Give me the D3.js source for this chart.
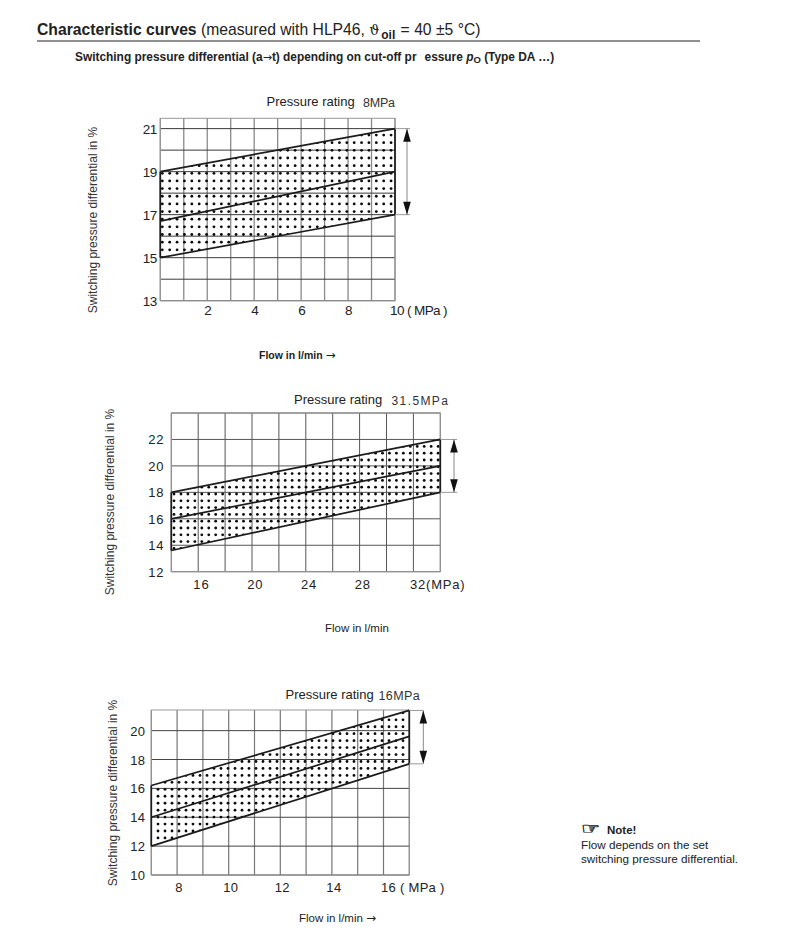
<!DOCTYPE html>
<html><head><meta charset="utf-8">
<script src="https://cdnjs.cloudflare.com/ajax/libs/d3/7.8.5/d3.min.js"></script>
<style>
html,body{margin:0;padding:0;background:#fff}
svg{display:block}
text{font-family:"Liberation Sans",Arial,sans-serif;fill:#222}
</style></head><body>
<svg id="c" width="793" height="938"></svg>
<script>
// Chart 1
const c1Rating = "8MPa";
const c1XDomain = [0, 10];
const c1YDomain = [13, 21.48];
const c1XGrid = [0,1,2,3,4,5,6,7,8,9,10];
const c1YGrid = [13,14,15,16,17,18,19,20,21];
const c1XTicks = [2,4,6,8,10];
const c1YTicks = [13,15,17,19,21];
const c1Lower = [15,17];
const c1Middle = [16.7,19];
const c1Upper = [19,21];
// Chart 2
const c2Rating = "31.5MPa";
const c2XDomain = [14, 34];
const c2YDomain = [12, 24];
const c2XGrid = [14,16,18,20,22,24,26,28,30,32,34];
const c2YGrid = [12,14,16,18,20,22,24];
const c2XTicks = [16,20,24,28,32];
const c2YTicks = [12,14,16,18,20,22];
const c2Lower = [13.6,18];
const c2Middle = [16,20];
const c2Upper = [18,22];
// Chart 3
const c3Rating = "16MPa";
const c3XDomain = [7, 17];
const c3YDomain = [10, 21.43];
const c3XGrid = [7,8,9,10,11,12,13,14,15,16,17];
const c3YGrid = [10,12,14,16,18,20];
const c3XTicks = [8,10,12,14,16];
const c3YTicks = [10,12,14,16,18,20];
const c3Lower = [12,17.7];
const c3Middle = [14,19.6];
const c3Upper = [16.2,21.4];

const yTitle = "Switching pressure differential in %";
const svg = d3.select("#c");
const arrowFont = "DejaVu Sans";

function chart(o){
  const x = d3.scaleLinear().domain(o.xd).range([o.l,o.r]);
  const y = d3.scaleLinear().domain(o.yd).range([o.b,o.t]);
  const band = o.xd.map((d,i)=>({x:d,lo:o.lower[i],hi:o.upper[i]}));
  const bandPath = d3.area().x(d=>x(d.x)).y0(d=>y(d.lo)).y1(d=>y(d.hi))(band);
  const cid = "clip"+o.id;
  svg.append("defs").append("clipPath").attr("id",cid).append("path").attr("d",bandPath);
  const g = svg.append("g");
  g.selectAll(".v").data(o.xg).join("line")
    .attr("x1",d=>x(d)).attr("x2",d=>x(d)).attr("y1",o.t).attr("y2",o.b)
    .attr("stroke",o.vc).attr("stroke-width",o.vw);
  g.selectAll(".h").data(o.yg).join("line")
    .attr("x1",o.l).attr("x2",o.r).attr("y1",d=>y(d)).attr("y2",d=>y(d))
    .attr("stroke",o.hc).attr("stroke-width",1);
  g.append("rect").attr("x",o.l).attr("y",o.t).attr("width",o.r-o.l).attr("height",o.b-o.t)
    .attr("fill","none").attr("stroke","#999").attr("stroke-width",1);
  // stipple texture of the tolerance band
  const cols = d3.range(o.px, o.r, o.dx);
  const rows = d3.range(o.py-o.dy*Math.ceil((o.py-o.t)/o.dy), o.b, o.dy);
  const lattice = d3.cross(cols, rows);
  g.append("g").attr("clip-path",`url(#${cid})`).selectAll("circle").data(lattice).join("circle")
    .attr("cx",d=>d[0]).attr("cy",d=>d[1]).attr("r",1.4).attr("fill","#0a0a0a");
  const ln = d3.line().x(d=>x(d[0])).y(d=>y(d[1]));
  [o.lower,o.middle,o.upper].forEach(s=>{
    g.append("path").attr("d",ln(o.xd.map((d,i)=>[d,s[i]])))
      .attr("fill","none").attr("stroke","#1c1c1c").attr("stroke-width",1.7);
  });
  [0,1].forEach(i=>{
    g.append("line").attr("x1",x(o.xd[i])).attr("x2",x(o.xd[i]))
      .attr("y1",y(o.lower[i])).attr("y2",y(o.upper[i])).attr("stroke","#1c1c1c").attr("stroke-width",1.7);
  });
  // bracket
  const yA=y(o.upper[1]), yB=y(o.lower[1]);
  [yA,yB].forEach(v=>g.append("line").attr("x1",o.r).attr("x2",o.ext).attr("y1",v).attr("y2",v)
     .attr("stroke","#999").attr("stroke-width",1));
  g.append("line").attr("x1",o.ax).attr("x2",o.ax).attr("y1",yA).attr("y2",yB).attr("stroke","#888").attr("stroke-width",1);
  g.append("path").attr("d",d3.line()([[o.ax,yA],[o.ax-3.8,yA+13],[o.ax+3.8,yA+13]])+"Z").attr("fill","#111");
  g.append("path").attr("d",d3.line()([[o.ax,yB],[o.ax-3.8,yB-13],[o.ax+3.8,yB-13]])+"Z").attr("fill","#111");
  // tick labels
  g.selectAll(".yt").data(o.yt).join("text").attr("x",o.l-o.ygap).attr("y",d=>y(d)+o.yoff)
    .attr("text-anchor","end").attr("font-size",o.fs).attr("letter-spacing",o.ls).text(d=>d);
  const last = o.xt[o.xt.length-1];
  g.selectAll(".xt").data(o.xt).join("text").attr("x",d=>d===last?o.lastX:x(d)+o.xoff).attr("y",o.xb)
    .attr("text-anchor",d=>d===last?"start":"middle").attr("font-size",o.fs).attr("letter-spacing",o.ls)
    .text(d=>d===last?d+o.unit:d);
  // titles
  g.append("text").attr("x",o.tx).attr("y",o.ty).attr("font-size",13).text("Pressure rating");
  g.append("text").attr("x",o.rx).attr("y",o.ty+1).attr("font-size",o.rfs).attr("letter-spacing",o.rls).style("fill","#333").text(o.rating);
  g.append("text").attr("transform",`translate(${o.ytx},${o.ytc}) rotate(-90)`).attr("text-anchor","middle")
    .attr("font-size",12).style("fill","#333").text(yTitle);
  const f = g.append("text").attr("x",o.fx).attr("y",o.fy).attr("font-size",o.ffs).attr("font-weight",o.fw);
  f.append("tspan").text(o.flow);
  if(o.arrow) f.append("tspan").attr("dx",3).attr("font-size",12).attr("font-weight","normal").style("font-family",arrowFont).text("→");
}

chart({id:1,xd:c1XDomain,yd:c1YDomain,l:160.3,r:395,t:118.3,b:300.7,xg:c1XGrid,yg:c1YGrid,xt:c1XTicks,yt:c1YTicks,
  lower:c1Lower,middle:c1Middle,upper:c1Upper,px:162.3,py:173.3,dx:7.38,dy:7.65,vc:"#8a8a8a",vw:1.3,hc:"#3a3a3a",
  ext:410,ax:407,fs:13.5,ls:-.6,ygap:3.6,yoff:5,xoff:.5,xb:315,lastX:390,unit:" ( MPa )",tx:266.5,ty:106,rx:363,rfs:12.5,rls:-.2,rating:c1Rating,
  ytx:97,ytc:220,fx:259,fy:359,ffs:10.5,fw:"bold",flow:"Flow in l/min",arrow:true});
chart({id:2,xd:c2XDomain,yd:c2YDomain,l:171.3,r:440.3,t:413,b:571.7,xg:c2XGrid,yg:c2YGrid,xt:c2XTicks,yt:c2YTicks,
  lower:c2Lower,middle:c2Middle,upper:c2Upper,px:174,py:494,dx:6.95,dy:6.8,vc:"#555",vw:1,hc:"#555",
  ext:457,ax:454,fs:13,ls:.8,ygap:7,yoff:5,xoff:3.2,xb:589,lastX:410,unit:"(MPa)",tx:294,ty:404,rx:391.5,rfs:12,rls:1.4,rating:c2Rating,
  ytx:114,ytc:502,fx:325,fy:632,ffs:11.5,fw:"normal",flow:"Flow in l/min",arrow:false});
chart({id:3,xd:c3XDomain,yd:c3YDomain,l:151.3,r:409.3,t:710,b:875,xg:c3XGrid,yg:c3YGrid,xt:c3XTicks,yt:c3YTicks,
  lower:c3Lower,middle:c3Middle,upper:c3Upper,px:158,py:789.3,dx:7,dy:6.95,vc:"#777",vw:1.2,hc:"#444",
  ext:423,ax:423.3,fs:13,ls:.3,ygap:6,yoff:5,xoff:2,xb:892,lastX:381,unit:" ( MPa )",tx:285.5,ty:699,rx:378.5,rfs:12.5,rls:.4,rating:c3Rating,
  ytx:116.7,ytc:793,fx:299,fy:922,ffs:11.5,fw:"normal",flow:"Flow in l/min",arrow:true});

// header
const head = svg.append("text").attr("x",37).attr("y",35).attr("font-size",15.7);
head.append("tspan").attr("font-weight","bold").text("Characteristic curves");
head.append("tspan").text(" (measured with HLP46, ");
head.append("tspan").style("font-family","DejaVu Serif").attr("font-size",14).text("ϑ");
head.append("tspan").attr("font-weight","bold").attr("font-size",12).attr("dy",4).attr("dx",2).text("oil");
head.append("tspan").attr("dy",-4).attr("dx",1).text(" = 40 ±5 °C)");
svg.append("line").attr("x1",37).attr("x2",700).attr("y1",41).attr("y2",41).attr("stroke","#222").attr("stroke-width",1.2);
const sub = svg.append("text").attr("x",75).attr("y",61).attr("font-size",11.9).attr("font-weight","bold");
sub.append("tspan").text("Switching pressure differential (a");
sub.append("tspan").attr("font-weight","normal").style("font-family",arrowFont).attr("font-size",11).text("→");
sub.append("tspan").text("t) depending on cut-off pr");
sub.append("tspan").attr("dx",8).text("essure ");
sub.append("tspan").attr("font-style","italic").text("p");
sub.append("tspan").attr("dy",2).attr("font-size",9.5).text("O");
sub.append("tspan").attr("dy",-2).text(" (Type DA …)");
// note
svg.append("text").attr("transform","translate(581,834) scale(1.35,1)").attr("font-size",16).style("font-family","DejaVu Sans").style("stroke","#222").style("stroke-width",.4).text("☞");
svg.append("text").attr("x",607).attr("y",834).attr("font-size",11.5).attr("font-weight","bold").text("Note!");
svg.append("text").attr("x",581).attr("y",849).attr("font-size",11.7).text("Flow depends on the set");
svg.append("text").attr("x",581).attr("y",863).attr("font-size",11.7).text("switching pressure differential.");
</script>
</body></html>
